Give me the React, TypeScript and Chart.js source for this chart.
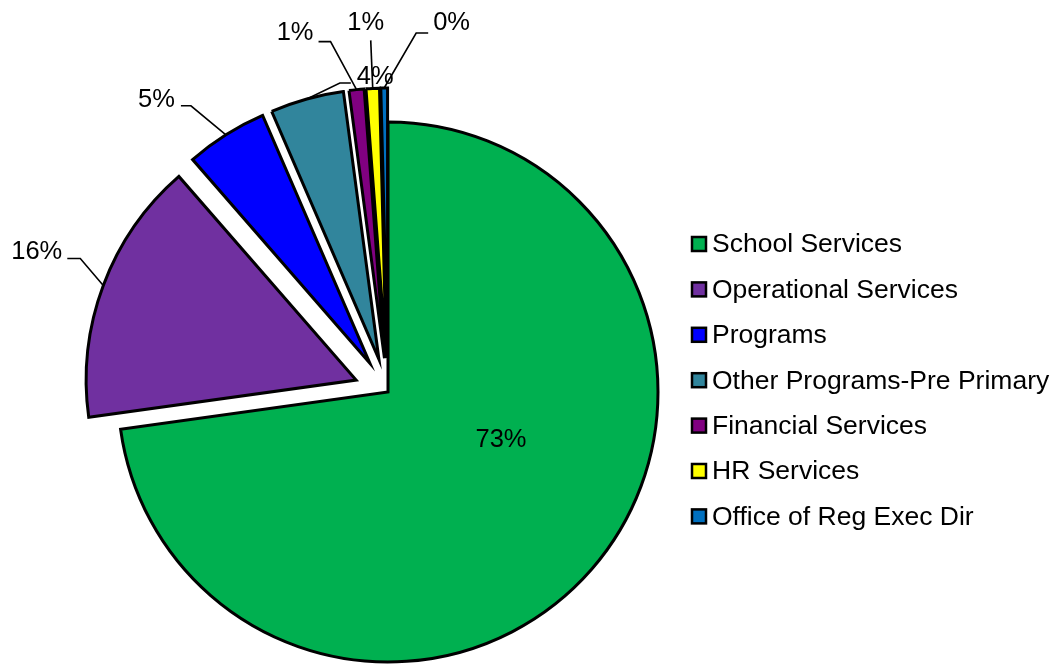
import { useEffect, useRef } from "react";
import { Chart, registerables } from "chart.js";

Chart.register(...registerables);

// ---- data ----
const categories = [
  "School Services",
  "Operational Services",
  "Programs",
  "Other Programs-Pre Primary",
  "Financial Services",
  "HR Services",
  "Office of Reg Exec Dir",
];
const shares = [72.8, 15.8, 4.9, 4.4, 0.9, 0.8, 0.4];
const pctLabels = shares.map((v) => Math.round(v) + "%");

// ---- styles ----
const colors = ["#00B050", "#7030A0", "#0000FF", "#31859C", "#800080", "#FFFF00", "#0070C0"];
const explode = [0, 34, 34, 34, 34, 34, 34];
// label layout relative to the slice's outer anchor: elbow (ex, ey), horizontal run h, text shift (tdx, tdy)
const labelLayout = [
  { inside: true, dx: 113, dy: 48 },
  { ex: -23, ey: -27, h: -13, tdx: -5, tdy: -6 },
  { ex: -35, ey: -29, h: -10, tdx: -6, tdy: -6 },
  { ex: 33, ey: -16, h: 11, tdx: 6, tdy: -6 },
  { ex: -26, ey: -48, h: -12, tdx: -5, tdy: -9 },
  { ex: -2, ey: -48, h: 0, tdx: -5, tdy: -17 },
  { ex: 32, ey: -55, h: 12, tdx: 5, tdy: -10 },
];
const FONT = '"Liberation Sans", Arial, sans-serif';

const explodePlugin = {
  id: "explodeSlices",
  beforeDatasetDraw(chart: any, args: any) {
    const ctx = chart.ctx;
    const meta = args.meta;
    meta.data.forEach((arc: any, i: number) => {
      const mid = (arc.startAngle + arc.endAngle) / 2;
      const t = explode[i] || 0;
      ctx.save();
      ctx.translate(Math.cos(mid) * t, Math.sin(mid) * t);
      arc.draw(ctx);
      ctx.restore();
    });
    return false;
  },
};

const labelPlugin = {
  id: "sliceLabels",
  afterDatasetsDraw(chart: any) {
    const ctx = chart.ctx;
    const meta = chart.getDatasetMeta(0);
    ctx.save();
    ctx.font = `25.5px ${FONT}`;
    ctx.fillStyle = "#000";
    ctx.strokeStyle = "#000";
    ctx.lineWidth = 1.6;
    ctx.textBaseline = "middle";
    meta.data.forEach((arc: any, i: number) => {
      const lay: any = labelLayout[i];
      const mid = (arc.startAngle + arc.endAngle) / 2;
      const t = explode[i] || 0;
      if (lay.inside) {
        ctx.textAlign = "center";
        ctx.fillText(pctLabels[i], arc.x + lay.dx, arc.y + lay.dy);
        return;
      }
      const R = arc.outerRadius + t;
      const ax = arc.x + Math.cos(mid) * R;
      const ay = arc.y + Math.sin(mid) * R;
      const exx = ax + lay.ex;
      const eyy = ay + lay.ey;
      const endX = exx + lay.h;
      ctx.beginPath();
      ctx.moveTo(ax, ay);
      ctx.lineTo(exx, eyy);
      ctx.lineTo(endX, eyy);
      ctx.stroke();
      ctx.textAlign = lay.h < 0 ? "right" : lay.h > 0 ? "left" : "center";
      ctx.fillText(pctLabels[i], endX + lay.tdx, eyy + lay.tdy);
    });
    ctx.restore();
  },
};

const legendPlugin = {
  id: "sideLegend",
  afterDraw(chart: any) {
    const ctx = chart.ctx;
    const left = 692;
    const top = 244;
    const step = 45.4;
    ctx.save();
    ctx.font = `26.5px ${FONT}`;
    ctx.textBaseline = "middle";
    ctx.textAlign = "left";
    categories.forEach((name, i) => {
      const y = top + i * step;
      ctx.fillStyle = colors[i];
      ctx.fillRect(left, y - 7, 14, 14);
      ctx.strokeStyle = "#000";
      ctx.lineWidth = 2.5;
      ctx.strokeRect(left, y - 7, 14, 14);
      ctx.fillStyle = "#000";
      ctx.fillText(name, left + 20, y + 1);
    });
    ctx.restore();
  },
};

export default function App() {
  const ref = useRef<HTMLCanvasElement | null>(null);
  useEffect(() => {
    if (!ref.current) return;
    const chart = new Chart(ref.current, {
      type: "pie",
      data: {
        labels: categories,
        datasets: [
          {
            data: shares,
            backgroundColor: colors,
            borderColor: "#000",
            borderWidth: 3,
            borderJoinStyle: "miter",
            clip: false,
          } as any,
        ],
      },
      options: {
        responsive: false,
        animation: false,
        devicePixelRatio: 1,
        radius: 270,
        layout: { padding: { left: 0, right: 284, top: 119, bottom: 0 } },
        plugins: {
          legend: { display: false },
          tooltip: { enabled: false },
        },
        events: [],
      } as any,
      plugins: [explodePlugin, labelPlugin, legendPlugin],
    });
    return () => chart.destroy();
  }, []);
  return (
    <div style={{ position: "fixed", left: 0, top: 0, width: 1060, height: 665, background: "#fff" }}>
      <canvas ref={ref} width={1060} height={665} style={{ display: "block" }} />
    </div>
  );
}
